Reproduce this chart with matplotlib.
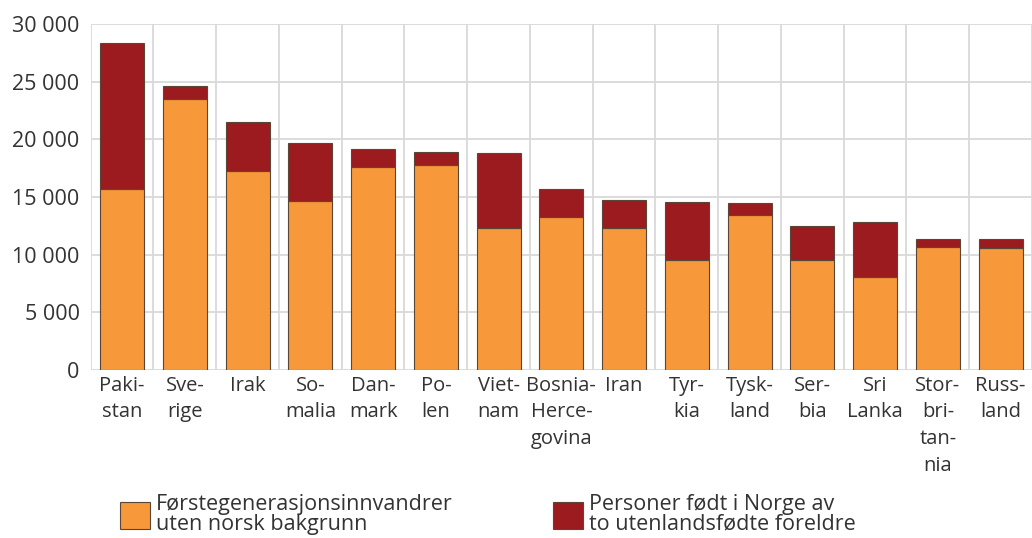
import matplotlib.pyplot as plt
from matplotlib.patches import Patch
from matplotlib.ticker import FuncFormatter, MultipleLocator

plt.rcParams['font.family'] = ['Open Sans', 'DejaVu Sans']

countries = ['Paki-\nstan', 'Sve-\nrige', 'Irak', 'So-\nmalia', 'Dan-\nmark', 'Po-\nlen',
             'Viet-\nnam', 'Bosnia-\nHerce-\ngovina', 'Iran', 'Tyr-\nkia', 'Tysk-\nland',
             'Ser-\nbia', 'Sri\nLanka', 'Stor-\nbri-\ntan-\nnia', 'Russ-\nland']
first_gen = [15700, 23480, 17230, 14680, 17630, 17810, 12340, 13240, 12340, 9570,
             13440, 9570, 8090, 10670, 10610]
born_norway = [12630, 1150, 4250, 5040, 1510, 1100, 6480, 2480, 2370, 5000,
               1070, 2950, 4750, 690, 750]

orange = '#f7983a'
red = '#9b1b1f'
edge = '#5a4636'

fig = plt.figure(figsize=(10.32, 5.38), dpi=100)
ax = fig.add_axes([0.0879, 0.3123, 0.9121, 0.6431])

x = range(len(countries))
ax.bar(x, first_gen, width=0.7, color=orange, edgecolor=edge, linewidth=0.8, zorder=3)
ax.bar(x, born_norway, width=0.7, bottom=first_gen, color=red, edgecolor=edge,
       linewidth=0.8, zorder=3)

ax.set_xlim(-0.5, len(countries) - 0.5)
ax.set_ylim(0, 30000)
ax.yaxis.set_major_locator(MultipleLocator(5000))
ax.yaxis.set_major_formatter(FuncFormatter(lambda v, p: f'{int(v):,}'.replace(',', ' ')))
ax.set_xticks(list(x))
ax.set_xticklabels(countries, fontsize=14.5, color='#333333', linespacing=1.45, va='top')
ax.set_xticks([i + 0.5 for i in range(-1, len(countries))], minor=True)
ax.tick_params(axis='y', labelsize=15.5, colors='#333333', length=0, pad=8)
ax.tick_params(axis='x', which='both', length=0, pad=4)

ax.grid(axis='y', which='major', color='#d9d9d9', linewidth=1.3, zorder=0)
ax.grid(axis='x', which='minor', color='#d9d9d9', linewidth=1.3, zorder=0)
ax.grid(axis='x', which='major', visible=False)
for s in ax.spines.values():
    s.set_visible(False)
ax.set_axisbelow(True)

legend_style = dict(loc='lower left', frameon=False, fontsize=15.5, handlelength=1.4,
                    handleheight=1.55, handletextpad=0.25, borderpad=0,
                    borderaxespad=0, labelcolor='#333333')
leg1 = fig.legend(handles=[Patch(facecolor=orange, edgecolor=edge, linewidth=0.8)],
                  labels=['Førstegenerasjonsinnvandrer\nuten norsk bakgrunn'],
                  bbox_to_anchor=(0.1163, 0.006), **legend_style)
leg2 = fig.legend(handles=[Patch(facecolor=red, edgecolor=edge, linewidth=0.8)],
                  labels=['Personer født i Norge av\nto utenlandsfødte foreldre'],
                  bbox_to_anchor=(0.5359, 0.006), **legend_style)
for leg in (leg1, leg2):
    for t in leg.get_texts():
        t.set_linespacing(0.95)

fig.savefig('out.png', dpi=100)
